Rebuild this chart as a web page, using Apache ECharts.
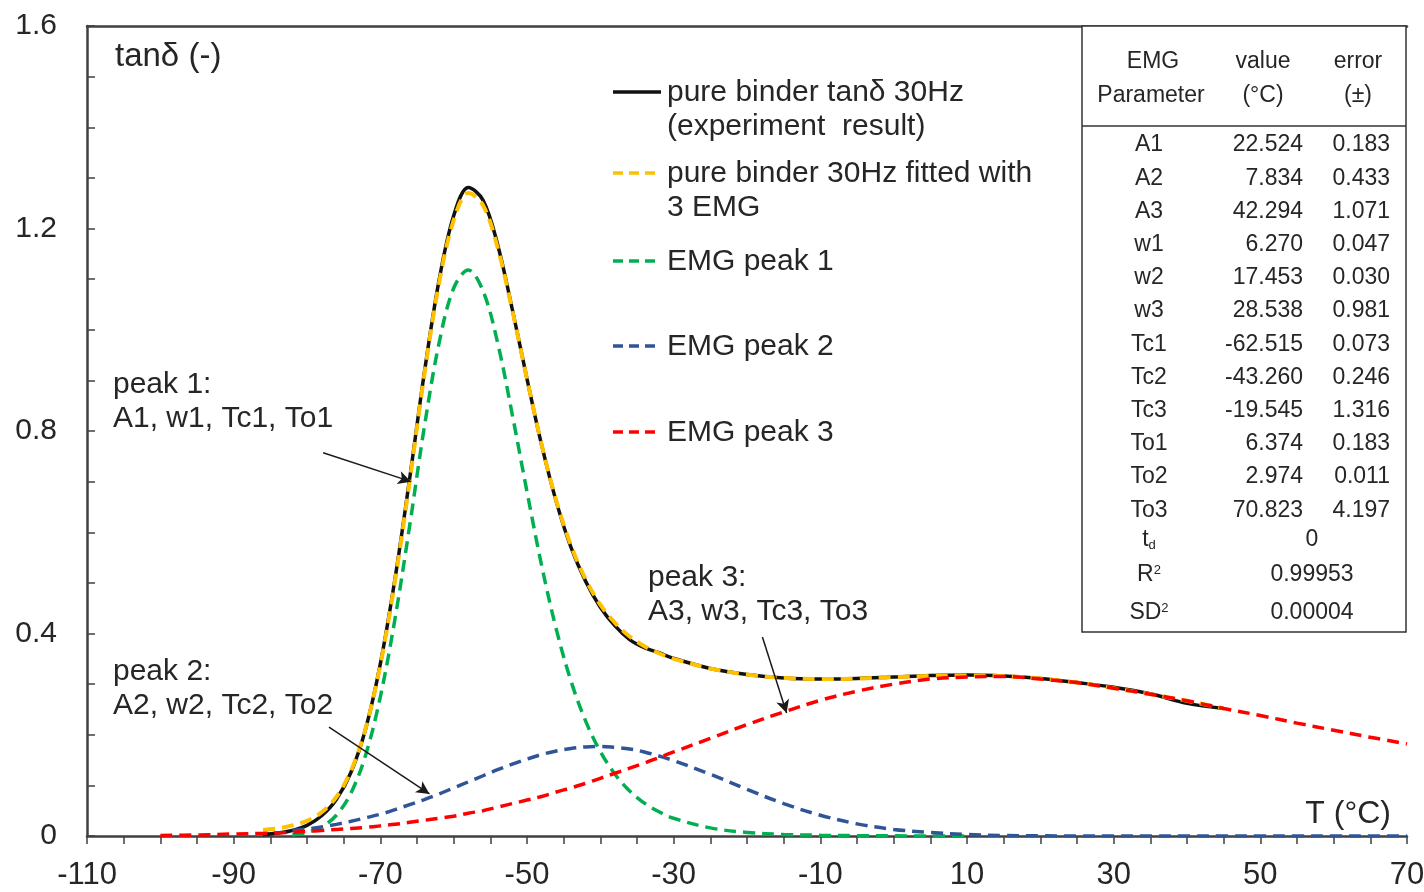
<!DOCTYPE html>
<html>
<head>
<meta charset="utf-8">
<script src="https://cdn.jsdelivr.net/npm/echarts@6/dist/echarts.min.js"></script>
<style>
  html, body { margin: 0; padding: 0; background: #fff; }
  #main { width: 1424px; height: 892px; }
</style>
</head>
<body>
<div id="main"></div>
<script>
// temperatures (°C) shared by all curves
var temps = [-100, -95, -90, -86, -84, -82,
  -80, -78, -76, -74, -72, -70, -68, -66, -64, -62, -60, -58, -56, -54, -52, -50,
  -48, -46, -44, -42, -40, -38, -36, -34, -32, -30,
  -25, -20, -15, -10, -5, 0, 5, 10, 15, 20, 25, 30, 35, 40, 45, 50, 55, 60, 65, 70];

// tan delta, experiment (black)
var experiment = [null, null, null, 0.003, 0.006, 0.011,
  0.021, 0.040, 0.072, 0.126, 0.212, 0.340, 0.508, 0.706, 0.915, 1.097, 1.225, 1.281, 1.256, 1.168, 1.040, 0.903,
  0.772, 0.660, 0.570, 0.503, 0.452, 0.415, 0.388, 0.372, 0.362, 0.351,
  0.331, 0.319, 0.312, 0.310, 0.311, 0.314, 0.317, 0.318, 0.316, 0.311, 0.303, 0.294, 0.281, 0.262, 0.252,
  null, null, null, null, null];

// fitted with 3 EMG (orange)
var fitted = [null, null, null, 0.012, 0.015, 0.021,
  0.030, 0.047, 0.077, 0.129, 0.213, 0.338, 0.504, 0.701, 0.911, 1.091, 1.216, 1.270, 1.246, 1.162, 1.038, 0.903,
  0.773, 0.662, 0.574, 0.507, 0.457, 0.421, 0.394, 0.375, 0.361, 0.350,
  0.331, 0.319, 0.312, 0.310, 0.311, 0.314, 0.316, 0.317, 0.316, 0.311, 0.303, 0.292, 0.280, 0.267, 0.252,
  null, null, null, null, null];

// EMG peak 1 (green)
var peak1 = [null, null, null, null, null, 0.002,
  0.007, 0.018, 0.041, 0.085, 0.160, 0.275, 0.429, 0.613, 0.808, 0.973, 1.082, 1.118, 1.077, 0.974, 0.832, 0.680,
  0.534, 0.408, 0.306, 0.227, 0.167, 0.122, 0.089, 0.065, 0.048, 0.035,
  0.016, 0.007, 0.003, 0.0015, 0.0007, 0.0003, 0, 0, null, null, null, null, null, null, null,
  null, null, null, null, null];

// EMG peak 2 (blue)
var peak2 = [null, null, null, null, null, 0.011,
  0.014, 0.018, 0.023, 0.029, 0.036, 0.043, 0.052, 0.062, 0.072, 0.083, 0.095, 0.107, 0.119, 0.131, 0.142, 0.152,
  0.161, 0.168, 0.173, 0.176, 0.177, 0.175, 0.172, 0.166, 0.158, 0.149,
  0.122, 0.092, 0.064, 0.041, 0.024, 0.013, 0.007, 0.003, 0.001, 0.0005, 0, 0, 0, 0, 0,
  0, 0, 0, 0, 0];

// EMG peak 3 (red)
var peak3 = [0.001, 0.002, 0.004, 0.005, 0.006, 0.0075,
  0.009, 0.011, 0.013, 0.015, 0.017, 0.020, 0.023, 0.027, 0.031, 0.035, 0.039, 0.045, 0.050, 0.057, 0.064, 0.071,
  0.078, 0.087, 0.095, 0.104, 0.114, 0.124, 0.134, 0.144, 0.155, 0.166,
  0.193, 0.220, 0.245, 0.268, 0.286, 0.300, 0.310, 0.314, 0.315, 0.310, 0.303, 0.292, 0.280, 0.267, 0.252,
  0.238, 0.223, 0.209, 0.195, 0.182];

// fit parameter table
var tableParams = ['A1', 'A2', 'A3', 'w1', 'w2', 'w3', 'Tc1', 'Tc2', 'Tc3', 'To1', 'To2', 'To3'];
var tableValues = ['22.524', '7.834', '42.294', '6.270', '17.453', '28.538', '-62.515', '-43.260', '-19.545', '6.374', '2.974', '70.823'];
var tableErrors = ['0.183', '0.433', '1.071', '0.047', '0.030', '0.981', '0.073', '0.246', '1.316', '0.183', '0.011', '4.197'];
var tdValue = '0';
var r2Value = '0.99953';
var sd2Value = '0.00004';

var seriesNames = ['pure binder tanδ 30Hz (experiment result)', 'pure binder 30Hz fitted with 3 EMG',
  'EMG peak 1', 'EMG peak 2', 'EMG peak 3'];

function pairs(vals) {
  return temps.map(function (t, i) { return [t, vals[i]]; })
    .filter(function (p) { return p[1] !== null; });
}

var FONT = '"Liberation Sans", Arial, sans-serif';
var TXT = '#262626';
var dash = [12, 7];

var chart = echarts.init(document.getElementById('main'));

// legend drawn by hand (uneven spacing, two line labels)
var legendItems = [
  { y: 92, color: '#111111', dashed: false, lines: ['pure binder tanδ 30Hz', '(experiment  result)'] },
  { y: 173, color: '#FFC000', dashed: true, lines: ['pure binder 30Hz fitted with', '3 EMG'] },
  { y: 261, color: '#00B050', dashed: true, lines: ['EMG peak 1'] },
  { y: 346, color: '#2F5597', dashed: true, lines: ['EMG peak 2'] },
  { y: 432, color: '#FF0000', dashed: true, lines: ['EMG peak 3'] }
];

function text(str, x, y, size, align, extra) {
  var st = {
    text: str, x: x, y: y, fill: TXT,
    font: size + 'px ' + FONT,
    textAlign: align || 'left', align: align || 'left',
    textVerticalAlign: 'middle', verticalAlign: 'middle'
  };
  if (extra) { for (var k in extra) st[k] = extra[k]; }
  return { type: 'text', z: 100, style: st };
}

var graphics = [];
legendItems.forEach(function (it) {
  graphics.push({
    type: 'line', z: 100,
    shape: { x1: 613, y1: it.y, x2: 661, y2: it.y },
    style: { stroke: it.color, lineWidth: 3.5, lineDash: it.dashed ? [10, 6] : null }
  });
  it.lines.forEach(function (l, j) {
    graphics.push(text(l, 667, it.y + 1 + j * 34, 30));
  });
});

// axis captions and peak notes
graphics.push(text('tanδ (-)', 115, 57, 33));
graphics.push(text('T (°C)', 1391, 814, 32, 'right'));
graphics.push(text('peak 1:', 113, 385, 30));
graphics.push(text('A1, w1, Tc1, To1', 113, 419, 30));
graphics.push(text('peak 2:', 113, 672, 30));
graphics.push(text('A2, w2, Tc2, To2', 113, 706, 30));
graphics.push(text('peak 3:', 648, 578, 30));
graphics.push(text('A3, w3, Tc3, To3', 648, 612, 30));

// parameter table
var tbl = { x: 1082, y: 26, w: 324, h: 606, head: 126 };
graphics.push({
  type: 'rect', z: 90,
  shape: { x: tbl.x, y: tbl.y, width: tbl.w, height: tbl.h },
  style: { fill: '#fff', stroke: '#333', lineWidth: 1.5 }
});
graphics.push({
  type: 'line', z: 91,
  shape: { x1: tbl.x, y1: tbl.head, x2: tbl.x + tbl.w, y2: tbl.head },
  style: { stroke: '#333', lineWidth: 1.5 }
});
var TF = 23;
var colP = 1149, colV = 1303, colE = 1390, colM = 1312;
graphics.push(text('EMG', colP + 4, 62, TF, 'center'));
graphics.push(text('Parameter', colP + 2, 96, TF, 'center'));
graphics.push(text('value', 1263, 62, TF, 'center'));
graphics.push(text('(°C)', 1263, 96, TF, 'center'));
graphics.push(text('error', 1358, 62, TF, 'center'));
graphics.push(text('(±)', 1358, 96, TF, 'center'));
tableParams.forEach(function (p, i) {
  var y = 145 + i * 33.2;
  graphics.push(text(p, colP, y, TF, 'center'));
  graphics.push(text(tableValues[i], colV, y, TF, 'right'));
  graphics.push(text(tableErrors[i], colE, y, TF, 'right'));
});
var rich = {
  n: { fontSize: TF, fontFamily: FONT, color: TXT },
  sup: { fontSize: 13, fontFamily: FONT, color: TXT, verticalAlign: 'top' },
  sub: { fontSize: 13, fontFamily: FONT, color: TXT, verticalAlign: 'bottom' }
};
graphics.push(text('{n|t}{sub|d}', colP, 540, TF, 'center', { rich: rich }));
graphics.push(text(tdValue, colM, 540, TF, 'center'));
graphics.push(text('{n|R}{sup|2}', colP, 575, TF, 'center', { rich: rich }));
graphics.push(text(r2Value, colM, 575, TF, 'center'));
graphics.push(text('{n|SD}{sup|2}', colP, 613, TF, 'center', { rich: rich }));
graphics.push(text(sd2Value, colM, 613, TF, 'center'));

function lineSeries(name, vals, color, width, dashed, z) {
  return {
    name: name, type: 'line', data: pairs(vals),
    showSymbol: false, symbol: 'none', smooth: 0.35, z: z,
    lineStyle: { color: color, width: width, type: dashed ? dash : 'solid', cap: 'butt' },
    itemStyle: { color: color }
  };
}

var arrowStyle = { color: '#1a1a1a', width: 1.5, type: 'solid' };

var series = [
  lineSeries(seriesNames[0], experiment, '#111111', 3.5, false, 2),
  lineSeries(seriesNames[1], fitted, '#FFC000', 4, true, 3),
  lineSeries(seriesNames[2], peak1, '#00B050', 3.5, true, 4),
  lineSeries(seriesNames[3], peak2, '#2F5597', 3.5, true, 4),
  lineSeries(seriesNames[4], peak3, '#FF0000', 3.5, true, 5)
];
series[4].markLine = {
  silent: true, symbol: ['none', 'arrow'], symbolSize: [10, 13],
  label: { show: false }, lineStyle: arrowStyle,
  data: [
    [{ coord: [-77.8, 0.757] }, { coord: [-65.8, 0.700] }],
    [{ coord: [-77.0, 0.215] }, { coord: [-63.3, 0.083] }],
    [{ coord: [-17.9, 0.393] }, { coord: [-14.6, 0.243] }]
  ]
};

var option = {
  animation: false,
  backgroundColor: '#fff',
  grid: { left: 87, right: 17, top: 26, bottom: 56, containLabel: false, outerBoundsMode: 'none' },
  legend: { show: false, data: seriesNames },
  xAxis: [{
    type: 'value', min: -110, max: 70, interval: 5,
    axisLine: { show: true, onZero: false, lineStyle: { color: '#404040', width: 2.5 } },
    axisTick: { show: true, inside: false, length: 8, lineStyle: { color: '#404040', width: 1.5 } },
    splitLine: { show: false },
    axisLabel: {
      margin: 24, color: TXT, fontSize: 31, fontFamily: FONT,
      formatter: function (v) { return ((v + 110) % 20 === 0) ? String(v) : ''; }
    }
  }, {
    type: 'value', min: -110, max: 70, position: 'top',
    axisLine: { show: true, onZero: false, lineStyle: { color: '#404040', width: 2.5 } },
    axisTick: { show: false }, axisLabel: { show: false }, splitLine: { show: false }
  }],
  yAxis: {
    type: 'value', min: 0, max: 1.6, interval: 0.1,
    axisLine: { show: true, onZero: false, lineStyle: { color: '#404040', width: 2.5 } },
    axisTick: { show: true, inside: true, length: 8, lineStyle: { color: '#404040', width: 1.5 } },
    splitLine: { show: false },
    axisLabel: {
      margin: 30, color: TXT, fontSize: 30, fontFamily: FONT,
      formatter: function (v) { return (Math.round(v * 10) % 4 === 0) ? String(+v.toFixed(1)) : ''; }
    }
  },
  series: series,
  graphic: graphics
};
chart.setOption(option);
</script>
</body>
</html>
